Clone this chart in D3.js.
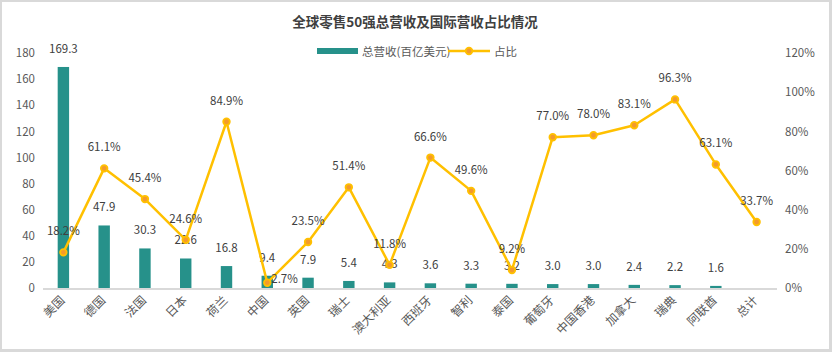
<!DOCTYPE html>
<html><head><meta charset="utf-8">
<script src="https://cdn.jsdelivr.net/npm/d3@7"></script>
<style>
html,body{margin:0;padding:0;background:#fff;}
svg{display:block;}
text{font-family:"Microsoft YaHei","Noto Sans CJK SC","Noto Sans",sans-serif;}
</style></head>
<body>
<svg id="c" width="832" height="352"></svg>
<script>
const categories = ["美国","德国","法国","日本","荷兰","中国","英国","瑞士","澳大利亚","西班牙","智利","泰国","葡萄牙","中国香港","加拿大","瑞典","阿联酋","总计"];
const revenue = [169.3,47.9,30.3,22.6,16.8,9.4,7.9,5.4,4.3,3.6,3.3,3.2,3.0,3.0,2.4,2.2,1.6,null];
const share = [18.2,61.1,45.4,24.6,84.9,2.7,23.5,51.4,11.8,66.6,49.6,9.2,77.0,78.0,83.1,96.3,63.1,33.7];
const leftTicks = [0,20,40,60,80,100,120,140,160,180];
const rightTicks = [0,20,40,60,80,100,120];
const title = "全球零售50强总营收及国际营收占比情况";
const seriesNames = ["总营收(百亿美元)","占比"];

const barColor = "#26918A", lineColor = "#FFC000", markerFill = "#F39A2C";
const svg = d3.select("#c");
// frame
svg.append("rect").attr("x",0).attr("y",0).attr("width",832).attr("height",352).attr("fill","#d9d9d9");
svg.append("rect").attr("x",2).attr("y",2).attr("width",827).attr("height",347).attr("fill","#fff");

const x = d3.scaleBand().domain(categories).range([43,777]).paddingInner(0.72).paddingOuter(0.36);
const y = d3.scaleLinear().domain([0,180]).range([288,53]);
const y2 = d3.scaleLinear().domain([0,120]).range([288,53]);
const cx = d => x(d)+x.bandwidth()/2;

// title
svg.append("text").attr("x",415).attr("y",27).attr("text-anchor","middle")
  .attr("font-size","13.5px").attr("font-weight","bold").attr("fill","#404040").text(title);

// left axis
const gl = svg.append("g").attr("transform","translate(35,0)")
  .call(d3.axisLeft(y).tickValues(leftTicks).tickSize(0).tickPadding(0));
gl.select(".domain").remove();
gl.selectAll("text").attr("font-size","11.5px").attr("fill","#595959").attr("font-family",'"Microsoft YaHei","Noto Sans CJK SC",sans-serif');
// right axis
const gr = svg.append("g").attr("transform","translate(785,0)")
  .call(d3.axisRight(y2).tickValues(rightTicks).tickFormat(d=>d+"%").tickSize(0).tickPadding(0));
gr.select(".domain").remove();
gr.selectAll("text").attr("font-size","11.5px").attr("fill","#595959").attr("font-family",'"Microsoft YaHei","Noto Sans CJK SC",sans-serif');

// bars
svg.append("g").selectAll("rect").data(categories.map((c,i)=>({c,v:revenue[i]})).filter(d=>d.v!=null))
  .join("rect").attr("x",d=>x(d.c)).attr("width",x.bandwidth())
  .attr("y",d=>y(d.v)).attr("height",d=>y(0)-y(d.v)).attr("fill",barColor);

// x axis line
svg.append("line").attr("x1",43).attr("x2",777).attr("y1",289).attr("y2",289).attr("stroke","#d9d9d9").attr("stroke-width",2);

// x labels
svg.append("g").selectAll("text").data(categories).join("text")
  .attr("transform",d=>`translate(${cx(d)+2},${301}) rotate(-45)`)
  .attr("text-anchor","end").attr("font-size","12px").attr("fill","#595959").text(d=>d);

// bar labels
svg.append("g").selectAll("text").data(categories.map((c,i)=>({c,v:revenue[i]})).filter(d=>d.v!=null))
  .join("text").attr("x",d=>cx(d.c)).attr("y",d=>y(d.v)-14).attr("text-anchor","middle")
  .attr("font-size","11.5px").attr("fill","#404040").text(d=>d.v.toFixed(1));

// line
const pts = categories.map((c,i)=>({c,v:share[i]}));
svg.append("path").datum(pts).attr("fill","none").attr("stroke",lineColor).attr("stroke-width",2.5)
  .attr("stroke-linejoin","round")
  .attr("d",d3.line().x(d=>cx(d.c)).y(d=>y2(d.v)));
svg.append("g").selectAll("circle").data(pts).join("circle")
  .attr("cx",d=>cx(d.c)).attr("cy",d=>y2(d.v)).attr("r",3.3)
  .attr("fill",markerFill).attr("stroke",lineColor).attr("stroke-width",1.8);
// line labels
svg.append("g").selectAll("text").data(pts).join("text")
  .attr("x",d=>d.c==="中国"?cx(d.c)+4:cx(d.c))
  .attr("y",d=>d.c==="中国"?y2(d.v)+0:y2(d.v)-17)
  .attr("text-anchor",d=>d.c==="中国"?"start":"middle")
  .attr("font-size","11.5px").attr("fill","#404040").text(d=>d.v.toFixed(1)+"%");

// legend
const lg = svg.append("g");
lg.append("rect").attr("x",317).attr("y",48).attr("width",41).attr("height",6).attr("fill",barColor);
lg.append("text").attr("x",362).attr("y",56).attr("font-size","11.5px").attr("fill","#595959").text(seriesNames[0]);
lg.append("line").attr("x1",448).attr("x2",490).attr("y1",51).attr("y2",51).attr("stroke",lineColor).attr("stroke-width",2.5);
lg.append("circle").attr("cx",469).attr("cy",51).attr("r",3.3).attr("fill",markerFill).attr("stroke",lineColor).attr("stroke-width",1.8);
lg.append("text").attr("x",494).attr("y",56).attr("font-size","11.5px").attr("fill","#595959").text(seriesNames[1]);
</script>
</body></html>
